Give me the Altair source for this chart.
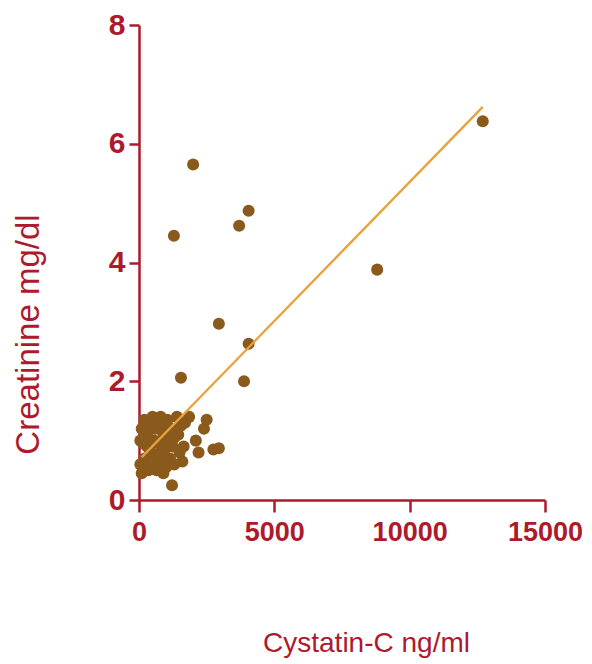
import altair as alt
import pandas as pd

# Scatter data (Cystatin-C ng/ml vs Creatinine mg/dl)
cystatin = [1290, 2000, 3700, 4050, 12700, 8800, 2950, 4050, 3880, 1550, 1220,
            100, 150, 200, 250, 300, 350, 400, 450, 500, 550, 600, 650, 700, 750,
            800, 850, 900, 950, 1000, 1050, 1100, 1150, 1200, 1250, 1300, 1400,
            1450, 1500, 1600, 1650, 1700, 1850, 2100, 2200, 2400, 2500, 2750, 2950,
            50, 100, 600, 300, 50, 200, 400, 700, 900, 1000, 1300, 1550, 350, 800]
creatinine = [4.45, 5.65, 4.62, 4.87, 6.38, 3.88, 2.97, 2.63, 2.0, 2.06, 0.25,
              1.2, 0.95, 0.7, 0.55, 1.1, 1.3, 0.85, 0.6, 1.4, 1.0, 0.75, 0.5, 1.25, 0.95,
              1.4, 0.65, 1.1, 0.85, 0.55, 1.35, 1.0, 0.7, 1.2, 0.9, 0.6, 1.4,
              1.1, 0.8, 0.65, 0.9, 1.3, 1.4, 1.0, 0.8, 1.2, 1.35, 0.85, 0.87,
              0.6, 0.45, 1.2, 0.9, 1.0, 1.35, 1.2, 0.55, 0.45, 1.25, 1.05, 1.25, 0.5, 0.8]

# Fitted line end points
line_x = [100, 12700]
line_y = [0.72, 6.62]

x_ticks = [0, 5000, 10000, 15000]
y_ticks = [0, 2, 4, 6, 8]

RED = "#ad1a2c"
BROWN = "#8a5a1c"
ORANGE = "#e9a23d"

pts = pd.DataFrame({"x": cystatin, "y": creatinine})
ln = pd.DataFrame({"x": line_x, "y": line_y})

xscale = alt.Scale(domain=[0, 15000], nice=False, zero=True)
yscale = alt.Scale(domain=[0, 8], nice=False, zero=True)

xaxis = alt.Axis(
    values=x_ticks, format="d", grid=False, domainColor=RED, domainWidth=2.5,
    tickColor=RED, tickWidth=2.5, tickSize=12,
    labelColor=RED, labelFont="Liberation Sans", labelFontSize=27,
    labelFontWeight="bold", labelPadding=7, labelFlush=False, labelOverlap=False,
    title="Cystatin-C ng/ml", titleColor=RED, titleFont="Liberation Sans",
    titleFontSize=28, titleFontWeight="normal",
    titleX=227, titleY=151, titleAlign="center", titleBaseline="alphabetic",
)
yaxis = alt.Axis(
    values=y_ticks, format="d", grid=False, domainColor=RED, domainWidth=2.5,
    tickColor=RED, tickWidth=2.5, tickSize=10,
    labelColor=RED, labelFont="Liberation Sans", labelFontSize=30,
    labelFontWeight="bold", labelPadding=4, labelFlush=False, labelOverlap=False,
    title="Creatinine mg/dl", titleColor=RED, titleFont="Liberation Sans",
    titleFontSize=33, titleFontWeight="normal", titleAngle=270,
    titleX=-101, titleY=309, titleAlign="center", titleBaseline="alphabetic",
)

points = alt.Chart(pts).mark_circle(size=145, color=BROWN, opacity=1).encode(
    x=alt.X("x:Q", scale=xscale, axis=xaxis),
    y=alt.Y("y:Q", scale=yscale, axis=yaxis),
)
line = alt.Chart(ln).mark_line(color=ORANGE, strokeWidth=2.4).encode(
    x=alt.X("x:Q", scale=xscale),
    y=alt.Y("y:Q", scale=yscale),
)

chart = alt.layer(points, line).properties(
    width=406, height=475,
    autosize=alt.AutoSizeParams(type="none"),
    padding={"left": 131, "top": 17, "right": 39, "bottom": 163},
    background="white",
).configure_view(strokeWidth=0, stroke=None)

chart.save("out.html", embed_options={"renderer": "svg", "actions": False})
